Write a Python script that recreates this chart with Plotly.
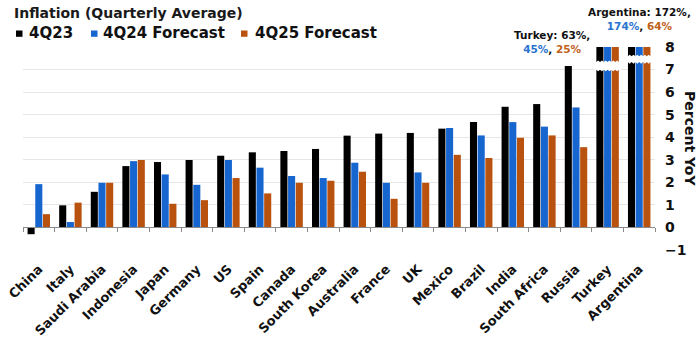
import plotly.graph_objects as go

categories = ["China", "Italy", "Saudi Arabia", "Indonesia", "Japan", "Germany", "US", "Spain",
              "Canada", "South Korea", "Australia", "France", "UK", "Mexico", "Brazil", "India",
              "South Africa", "Russia", "Turkey", "Argentina"]
q4_23 = [-0.30, 0.98, 1.58, 2.72, 2.90, 2.99, 3.18, 3.33, 3.39, 3.48, 4.07, 4.16, 4.19, 4.38,
         4.67, 5.35, 5.47, 7.16, 63, 172]
q4_24 = [1.92, 0.24, 1.98, 2.94, 2.35, 1.89, 2.99, 2.65, 2.28, 2.19, 2.87, 1.98, 2.44, 4.41,
         4.08, 4.67, 4.47, 5.32, 45, 174]
q4_25 = [0.59, 1.10, 1.98, 2.99, 1.05, 1.21, 2.19, 1.51, 1.98, 2.07, 2.47, 1.27, 1.98, 3.22,
         3.08, 3.98, 4.08, 3.56, 25, 64]
series_names = ["4Q23", "4Q24 Forecast", "4Q25 Forecast"]
y_ticks = [-1, 0, 1, 2, 3, 4, 5, 6, 7, 8]

# style
W, H = 700, 343
L, R, T, B = 23, 45, 47, 93
PW, PH = W - L - R, H - T - B
colors = ["#000000", "#1766d0", "#b9520f"]
blue_txt = "#2a74d0"
orange_txt = "#c0611c"
FONT = "DejaVu Sans"
YMIN, YMAX = -1, 8
# axis-break bands (drawn where bars exceed the axis)
breaks = {"Turkey": (6.92, 7.40), "Argentina": (7.26, 7.66)}


def px_x(px):
    return (px - L) / PW


def px_y(py):
    return 1 - (py - T) / PH


def jagged_band(i, lo, hi, half=0.42, step=0.06, amp=0.07):
    n = int(round(2 * half / step))
    xs = [i - half + k * step for k in range(n + 1)]
    pts = [(x, lo + (amp if k % 2 else 0)) for k, x in enumerate(xs)]
    pts += [(x, hi - (amp if k % 2 else 0)) for k, x in reversed(list(enumerate(xs)))]
    return "M " + " L ".join(f"{x:.3f},{y:.3f}" for x, y in pts) + " Z"


fig = go.Figure()
for name, vals, col in zip(series_names, [q4_23, q4_24, q4_25], colors):
    fig.add_trace(go.Bar(x=categories, y=vals, name=name, marker=dict(color=col, line=dict(width=0)),
                         showlegend=False))

shapes = []
for cat, (lo, hi) in breaks.items():
    i = categories.index(cat)
    shapes.append(dict(type="path", xref="x", yref="y", path=jagged_band(i, lo, hi),
                       fillcolor="white", line=dict(width=0), layer="above"))

# legend keys
legend_items = [(16, 27, series_names[0]), (91, 100.5, series_names[1]), (241, 252.5, series_names[2])]
annotations = []
for (sx, tx, name), col in zip(legend_items, colors):
    shapes.append(dict(type="rect", xref="paper", yref="paper", x0=px_x(sx), x1=px_x(sx + 6.5),
                       y0=px_y(36.8), y1=px_y(30.5), fillcolor=col, line=dict(width=0)))
    annotations.append(dict(xref="paper", yref="paper", x=px_x(tx), y=px_y(32.5), xanchor="left",
                            yanchor="middle", showarrow=False, text=name,
                            font=dict(family=FONT, size=15, color="#111111", weight="bold")))

annotations.append(dict(xref="paper", yref="paper", x=px_x(12), y=px_y(13), xanchor="left",
                        yanchor="middle", showarrow=False, text="Inflation (Quarterly Average)",
                        font=dict(family=FONT, size=14, color="#1a1a1a", weight="bold")))

annotations.append(dict(xref="paper", yref="paper", x=px_x(690), y=px_y(138), xanchor="center",
                        yanchor="middle", showarrow=False, text="Percent YoY", textangle=90,
                        font=dict(family=FONT, size=14, color="#111111", weight="bold")))

ia = categories.index("Argentina")
annotations.append(dict(xref="x", yref="paper", x=ia, y=px_y(34), xanchor="center", yanchor="bottom",
                        showarrow=False, align="center",
                        text=(f"Argentina: {q4_23[ia]:.0f}%,<br>"
                              f"<span style='color:{blue_txt}'>{q4_24[ia]:.0f}%</span>, "
                              f"<span style='color:{orange_txt}'>{q4_25[ia]:.0f}%</span>"),
                        font=dict(family=FONT, size=10.5, color="#111111", weight="bold")))
it = categories.index("Turkey")
annotations.append(dict(xref="x", yref="paper", x=it - 0.5, y=px_y(57), xanchor="right", yanchor="bottom",
                        showarrow=False, align="center",
                        text=(f"Turkey: {q4_23[it]:.0f}%,<br>"
                              f"<span style='color:{blue_txt}'>{q4_24[it]:.0f}%</span>, "
                              f"<span style='color:{orange_txt}'>{q4_25[it]:.0f}%</span>"),
                        font=dict(family=FONT, size=10.5, color="#111111", weight="bold")))

fig.update_layout(
    width=W, height=H, autosize=False,
    margin=dict(l=L, r=R, t=T, b=B, pad=0, autoexpand=False),
    paper_bgcolor="white", plot_bgcolor="white",
    barmode="group", bargap=0.27, bargroupgap=0.08,
    shapes=shapes, annotations=annotations,
    xaxis=dict(type="category", range=[-0.5, len(categories) - 0.5], autorange=False,
               anchor="free", position=(0 - YMIN) / (YMAX - YMIN), automargin=False,
               showline=True, linecolor="#8a8a8a", linewidth=1, ticks="outside", ticklen=4,
               tickcolor="#8a8a8a", tickson="boundaries", tickangle=-45, ticklabelstandoff=28,
               tickfont=dict(family=FONT, size=13, color="#111111", weight="bold"),
               showgrid=False, zeroline=False, fixedrange=True),
    yaxis=dict(range=[YMIN, YMAX], autorange=False, tickvals=y_ticks, side="right", showgrid=True,
               automargin=False, gridcolor="#e6e6e6", gridwidth=1, zeroline=False, ticks="",
               ticklabelstandoff=9,
               tickfont=dict(family=FONT, size=14, color="#111111", weight="bold"),
               fixedrange=True),
)

fig.write_html("out.html")
